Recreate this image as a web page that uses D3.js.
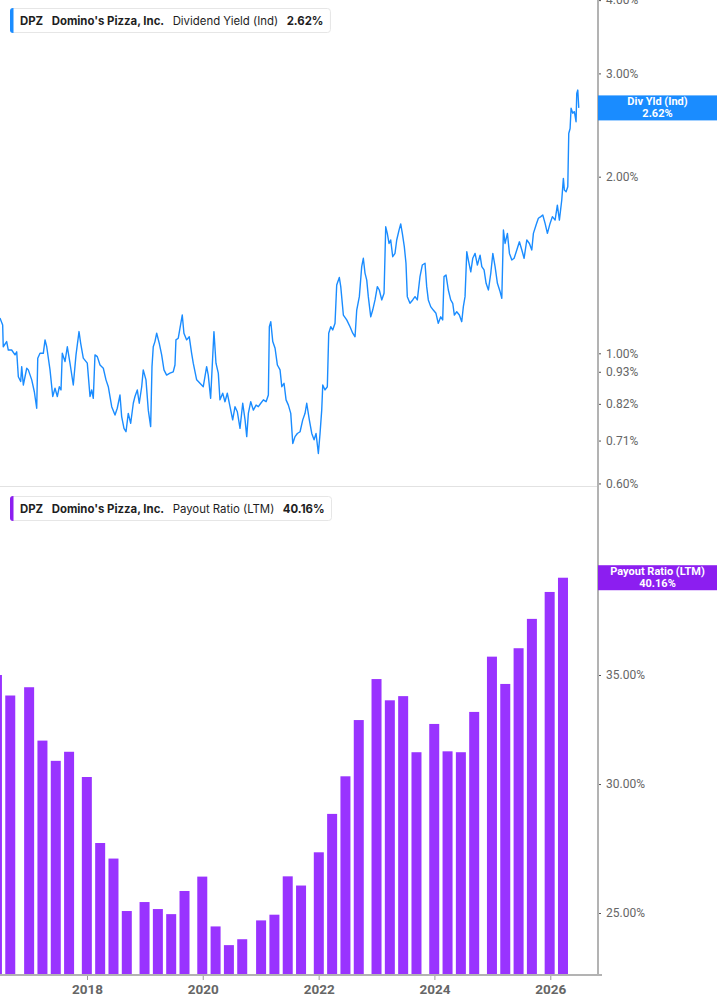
<!DOCTYPE html>
<html>
<head>
<meta charset="utf-8">
<script src="https://cdn.jsdelivr.net/npm/d3@7"></script>
<style>
  body { margin: 0; background: #fff; }
  svg { display: block; }
</style>
</head>
<body>
<div id="chart"></div>
<script>
// dividend yield (%), dates as decimal years
const divYears = [
  2016.497, 2016.544, 2016.554, 2016.613, 2016.641, 2016.699, 2016.757, 2016.786, 2016.814, 2016.855,
  2016.872, 2016.900, 2016.959, 2016.986, 2017.045, 2017.090, 2017.131, 2017.149, 2017.188, 2017.245,
  2017.275, 2017.304, 2017.361, 2017.408, 2017.447, 2017.487, 2017.522, 2017.551, 2017.573, 2017.620,
  2017.660, 2017.706, 2017.763, 2017.810, 2017.862, 2017.891, 2017.936, 2018.005, 2018.052, 2018.081,
  2018.109, 2018.138, 2018.178, 2018.225, 2018.282, 2018.328, 2018.368, 2018.427, 2018.484, 2018.523,
  2018.570, 2018.599, 2018.639, 2018.674, 2018.713, 2018.755, 2018.800, 2018.829, 2018.869, 2018.903,
  2018.945, 2018.972, 2019.019, 2019.059, 2019.100, 2019.123, 2019.145, 2019.174, 2019.204, 2019.249,
  2019.290, 2019.330, 2019.376, 2019.433, 2019.490, 2019.520, 2019.537, 2019.577, 2019.606, 2019.646,
  2019.675, 2019.722, 2019.767, 2019.808, 2019.836, 2019.895, 2019.952, 2020.009, 2020.067, 2020.095,
  2020.136, 2020.193, 2020.228, 2020.268, 2020.297, 2020.344, 2020.383, 2020.423, 2020.470, 2020.516,
  2020.556, 2020.596, 2020.642, 2020.689, 2020.729, 2020.758, 2020.786, 2020.827, 2020.872, 2020.919,
  2020.958, 2021.000, 2021.045, 2021.092, 2021.131, 2021.148, 2021.173, 2021.207, 2021.247, 2021.287,
  2021.333, 2021.363, 2021.402, 2021.437, 2021.477, 2021.518, 2021.553, 2021.592, 2021.632, 2021.679,
  2021.725, 2021.765, 2021.794, 2021.839, 2021.881, 2021.921, 2021.955, 2021.995, 2022.024, 2022.053,
  2022.071, 2022.110, 2022.150, 2022.174, 2022.209, 2022.243, 2022.283, 2022.312, 2022.357, 2022.382,
  2022.427, 2022.485, 2022.542, 2022.589, 2022.629, 2022.658, 2022.703, 2022.744, 2022.772, 2022.801,
  2022.831, 2022.858, 2022.900, 2022.934, 2022.974, 2023.014, 2023.048, 2023.090, 2023.130, 2023.159,
  2023.186, 2023.216, 2023.245, 2023.280, 2023.319, 2023.349, 2023.389, 2023.418, 2023.446, 2023.480,
  2023.509, 2023.532, 2023.578, 2023.625, 2023.665, 2023.705, 2023.751, 2023.791, 2023.838, 2023.867,
  2023.895, 2023.936, 2023.981, 2024.027, 2024.067, 2024.109, 2024.143, 2024.166, 2024.200, 2024.240,
  2024.281, 2024.316, 2024.344, 2024.385, 2024.430, 2024.471, 2024.499, 2024.528, 2024.558, 2024.585,
  2024.627, 2024.661, 2024.701, 2024.741, 2024.787, 2024.817, 2024.856, 2024.891, 2024.931, 2024.972,
  2025.007, 2025.046, 2025.086, 2025.133, 2025.162, 2025.190, 2025.219, 2025.259, 2025.294, 2025.335,
  2025.375, 2025.421, 2025.466, 2025.508, 2025.547, 2025.594, 2025.639, 2025.680, 2025.708, 2025.754,
  2025.794, 2025.836, 2025.870, 2025.910, 2025.950, 2025.996, 2026.036, 2026.083, 2026.122, 2026.157,
  2026.198, 2026.226, 2026.243, 2026.273, 2026.302, 2026.319, 2026.342, 2026.359, 2026.388, 2026.416,
  2026.445, 2026.457, 2026.475, 2026.492
];
const divYield = [
  1.149, 1.117, 1.026, 1.047, 1.013, 1.013, 0.994, 1.006, 0.912, 0.895,
  0.949, 0.883, 0.943, 0.937, 0.901, 0.860, 0.806, 0.981, 1.000, 1.000,
  1.054, 1.026, 0.937, 0.844, 0.872, 0.844, 0.877, 0.866, 1.000, 0.968,
  1.026, 0.962, 0.883, 0.994, 1.089, 1.040, 0.981, 0.962, 0.844, 0.866,
  0.838, 0.994, 0.987, 0.955, 0.943, 0.901, 0.877, 0.811, 0.785, 0.806,
  0.849, 0.780, 0.745, 0.735, 0.790, 0.760, 0.822, 0.844, 0.866, 0.822,
  0.877, 0.937, 0.901, 0.800, 0.750, 0.949, 1.026, 1.047, 1.082, 1.040,
  0.994, 0.937, 0.918, 0.925, 0.930, 0.955, 1.054, 1.061, 1.103, 1.162,
  1.082, 1.054, 1.067, 1.000, 0.962, 0.901, 0.889, 0.877, 0.949, 0.918,
  0.838, 1.089, 0.962, 0.925, 0.833, 0.855, 0.827, 0.855, 0.811, 0.770,
  0.811, 0.795, 0.745, 0.822, 0.770, 0.721, 0.790, 0.827, 0.800, 0.816,
  0.811, 0.822, 0.833, 0.827, 0.849, 1.110, 1.132, 1.047, 1.020, 0.955,
  0.937, 0.877, 0.889, 0.833, 0.816, 0.790, 0.702, 0.721, 0.730, 0.735,
  0.770, 0.790, 0.822, 0.770, 0.730, 0.712, 0.730, 0.675, 0.730, 0.800,
  0.883, 0.866, 0.877, 1.082, 1.110, 1.096, 1.125, 1.307, 1.347, 1.299,
  1.162, 1.140, 1.110, 1.082, 1.067, 1.185, 1.249, 1.405, 1.452, 1.370,
  1.333, 1.249, 1.154, 1.185, 1.233, 1.299, 1.282, 1.233, 1.266, 1.643,
  1.601, 1.539, 1.560, 1.461, 1.480, 1.560, 1.622, 1.662, 1.601, 1.520,
  1.424, 1.249, 1.217, 1.233, 1.249, 1.233, 1.351, 1.414, 1.424, 1.299,
  1.233, 1.201, 1.185, 1.170, 1.125, 1.154, 1.140, 1.351, 1.360, 1.282,
  1.233, 1.217, 1.162, 1.177, 1.162, 1.132, 1.201, 1.249, 1.490, 1.442,
  1.377, 1.452, 1.480, 1.414, 1.470, 1.405, 1.387, 1.316, 1.282, 1.370,
  1.480, 1.405, 1.316, 1.273, 1.241, 1.622, 1.539, 1.601, 1.480, 1.442,
  1.452, 1.500, 1.549, 1.500, 1.452, 1.560, 1.539, 1.500, 1.601, 1.655,
  1.699, 1.710, 1.721, 1.665, 1.601, 1.665, 1.710, 1.687, 1.789, 1.687,
  1.825, 1.987, 1.898, 1.886, 1.923, 2.370, 2.417, 2.617, 2.566, 2.582,
  2.482, 2.772, 2.810, 2.620
];

// payout ratio (LTM, %), at fiscal quarter ends
const payoutDates = [
  "2016-06-12", "2016-09-04", "2017-01-01",
  "2017-03-26", "2017-06-18", "2017-09-10", "2017-12-31",
  "2018-03-25", "2018-06-17", "2018-09-09", "2018-12-30",
  "2019-03-24", "2019-06-16", "2019-09-08", "2019-12-29",
  "2020-03-22", "2020-06-14", "2020-09-06", "2021-01-03",
  "2021-03-28", "2021-06-20", "2021-09-12", "2022-01-02",
  "2022-03-27", "2022-06-19", "2022-09-11", "2023-01-01",
  "2023-03-26", "2023-06-18", "2023-09-10", "2023-12-31",
  "2024-03-24", "2024-06-16", "2024-09-08", "2024-12-29",
  "2025-03-23", "2025-06-15", "2025-09-07", "2025-12-28",
  "2026-03-22"
];
const payoutRatio = [
  35.0, 34.0, 34.4,
  31.9, 31.0, 31.4, 30.3,
  27.6, 27.0, 25.07, 25.39,
  25.14, 24.96, 25.79, 26.32,
  24.53, 23.89, 24.09, 24.74,
  24.94, 26.33, 25.99, 27.24,
  28.76, 30.33, 32.84, 34.80,
  33.77, 33.97, 31.38, 32.66,
  31.42, 31.38, 33.22, 35.92,
  34.56, 36.35, 37.89, 39.36,
  40.16
];

const yieldTicks = [0.60, 0.71, 0.82, 0.93, 1.00, 2.00, 3.00, 4.00];
const payoutTicks = [25, 30, 35, 40];
const yearTicks = [2018, 2020, 2022, 2024, 2026];

let width = 717
let height = 1005
let axisX = 598
let topBottom = 486
let baseY = 975

let blue = '#1a8cff'
let purple = '#9933ff'
let purpleDark = '#8c1ef0'

let yearToDate = t => {
  let y = Math.floor(t)
  let a = Date.UTC(y, 0, 1), b = Date.UTC(y + 1, 0, 1)
  return new Date(a + (t - y) * (b - a))
}
let parse = d3.utcParse('%Y-%m-%d')

let lineData = divYears.map((t, i) => ({ date: yearToDate(t), v: divYield[i] }))
let barData = payoutDates.map((d, i) => ({ date: parse(d), v: payoutRatio[i] }))

let x = d3.scaleUtc()
  .domain([new Date(Date.UTC(2018, 0, 1)), new Date(Date.UTC(2026, 0, 1))])
  .range([87, 550.3])

let yTop = d3.scaleLog().domain([1, 2]).range([353.3, 176.7])
let yBot = d3.scaleLog().domain([25, 35]).range([913, 675])

let svg = d3.select('#chart')
  .append('svg')
  .attr('width', width)
  .attr('height', height)
  .style('font-family', 'Roboto, sans-serif')

svg.append('defs').append('clipPath')
  .attr('id', 'topClip')
  .append('rect')
  .attr('x', 0).attr('y', 0)
  .attr('width', axisX).attr('height', topBottom)

// panel separator
svg.append('line')
  .attr('x1', 0).attr('x2', axisX)
  .attr('y1', topBottom + 0.5).attr('y2', topBottom + 0.5)
  .attr('stroke', '#e2e2e2')

// dividend yield line
svg.append('path')
  .datum(lineData)
  .attr('clip-path', 'url(#topClip)')
  .attr('fill', 'none')
  .attr('stroke', blue)
  .attr('stroke-width', 1.4)
  .attr('stroke-linejoin', 'round')
  .attr('d', d3.line().x(d => x(d.date)).y(d => yTop(d.v)))

// payout bars
svg.append('g')
  .selectAll('rect')
  .data(barData)
  .join('rect')
  .attr('x', d => x(d.date) - 5)
  .attr('width', 10)
  .attr('y', d => yBot(d.v))
  .attr('height', d => baseY - yBot(d.v))
  .attr('fill', purple)

// right axes
let fmt = d => d.toFixed(2) + '%'
let styleAxis = g => {
  g.select('.domain').remove()
  g.selectAll('.tick line').attr('stroke', '#555')
  g.selectAll('.tick text')
    .attr('fill', '#666')
    .attr('font-size', '12px')
    .attr('font-family', 'Roboto, sans-serif')
}

svg.append('g')
  .attr('transform', `translate(${axisX},0)`)
  .call(d3.axisRight(yTop).tickValues(yieldTicks).tickFormat(fmt).tickSize(3).tickPadding(5))
  .call(styleAxis)

// the 40% label sits under the value flag, so only its tick is drawn
svg.append('g')
  .attr('transform', `translate(${axisX},0)`)
  .call(d3.axisRight(yBot).tickValues(payoutTicks)
    .tickFormat(d => d === 40 ? '' : fmt(d)).tickSize(3).tickPadding(5))
  .call(styleAxis)

// bottom time axis
svg.append('g')
  .attr('transform', `translate(0,${baseY})`)
  .call(d3.axisBottom(x)
    .tickValues(yearTicks.map(y => new Date(Date.UTC(y, 0, 1))))
    .tickFormat(d3.utcFormat('%Y'))
    .tickSize(5).tickPadding(4))
  .call(g => {
    g.select('.domain').remove()
    g.selectAll('.tick line').attr('stroke', '#999')
    g.selectAll('.tick text')
      .attr('fill', '#666')
      .attr('font-size', '13.5px')
      .attr('font-weight', 700)
      .attr('font-family', 'Roboto, sans-serif')
  })

// axis frame lines
svg.append('line')
  .attr('x1', axisX).attr('x2', axisX)
  .attr('y1', 0).attr('y2', baseY + 1)
  .attr('stroke', '#b3b3b3').attr('stroke-width', 2)
svg.append('line')
  .attr('x1', 0).attr('x2', axisX + 4)
  .attr('y1', baseY).attr('y2', baseY)
  .attr('stroke', '#b3b3b3').attr('stroke-width', 2)

// value flags on the axis
let flag = (yc, color, line1, line2) => {
  let g = svg.append('g')
  g.append('rect')
    .attr('x', axisX).attr('y', yc - 12.5)
    .attr('width', width - axisX).attr('height', 25)
    .attr('fill', color)
  g.append('text')
    .attr('x', (axisX + width) / 2).attr('y', yc - 2.5)
    .attr('text-anchor', 'middle')
    .attr('fill', '#fff').attr('font-size', '11px').attr('font-weight', 700)
    .text(line1)
  g.append('text')
    .attr('x', (axisX + width) / 2).attr('y', yc + 9)
    .attr('text-anchor', 'middle')
    .attr('fill', '#fff').attr('font-size', '11px').attr('font-weight', 700)
    .text(line2)
}
let lastYield = divYield[divYield.length - 1]
let lastPayout = payoutRatio[payoutRatio.length - 1]
flag(yTop(lastYield), blue, 'Div Yld (Ind)', fmt(lastYield))
flag(yBot(lastPayout), purpleDark, 'Payout Ratio (LTM)', fmt(lastPayout))

// legends
let legend = (top, color, metric, value) => {
  let g = svg.append('g').attr('transform', `translate(10,${top})`)
  let box = g.append('rect')
    .attr('x', 0.5).attr('y', 0.5).attr('height', 24).attr('rx', 3)
    .attr('fill', '#fff').attr('stroke', '#e6e6e6')
  g.append('path')
    .attr('d', 'M3,0 H3.5 V25 H3 A3,3 0 0 1 0,22 V3 A3,3 0 0 1 3,0 Z')
    .attr('fill', color)
  let parts = [
    { t: 'DPZ', w: 700 },
    { t: "Domino's Pizza, Inc.", w: 700 },
    { t: metric, w: 400 },
    { t: value, w: 700 }
  ]
  let cx = 10
  parts.forEach(p => {
    let t = g.append('text')
      .attr('x', cx).attr('y', 16.5)
      .attr('font-family', 'Inter, sans-serif')
      .attr('font-size', '11.4px')
      .attr('font-weight', p.w)
      .attr('fill', '#1e1e1e')
      .text(p.t)
    cx += t.node().getComputedTextLength() + 8.5
  })
  box.attr('width', cx - 2)
}
legend(8, blue, 'Dividend Yield (Ind)', fmt(lastYield))
legend(496, purpleDark, 'Payout Ratio (LTM)', fmt(lastPayout))
</script>
</body>
</html>
